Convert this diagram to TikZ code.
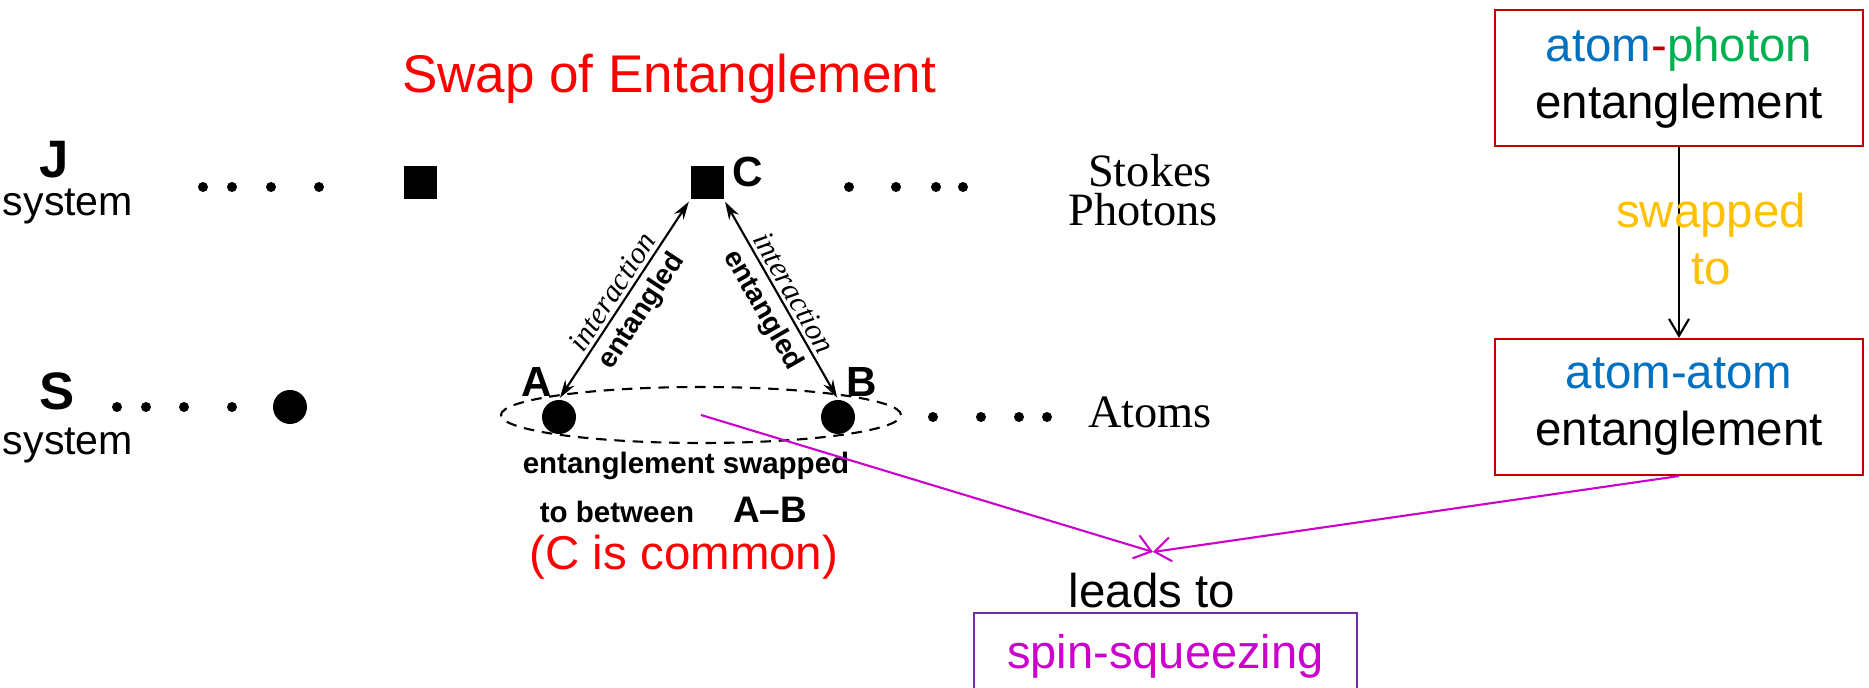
\documentclass[tikz,border=0pt]{standalone}
\usepackage{fontspec}
\setmainfont{Liberation Sans}
\newfontfamily\timesfont{Liberation Serif}
\usetikzlibrary{shapes.geometric}
\usetikzlibrary{arrows.meta}
\usetikzlibrary{positioning}

\definecolor{boxred}{HTML}{C00000}
\definecolor{atomblue}{HTML}{0070C0}
\definecolor{photgreen}{HTML}{00B050}
\definecolor{swaporange}{HTML}{FFC000}
\definecolor{spinmag}{HTML}{CC00CC}
\definecolor{spinpurple}{HTML}{7030A0}

\tikzset{
	txt/.style={anchor=base, inner sep=0pt},
	dot/.style={circle, fill, inner sep=0pt, minimum size=1mm},
	photon/.style={rectangle, fill, inner sep=0pt, minimum size=3.3mm},
	atom/.style={circle, fill, inner sep=0pt, minimum size=3.4mm},
	bigname/.style={txt, font=\bfseries\fontsize{15}{18}\selectfont},
	sysname/.style={txt, font=\fontsize{11.7}{14}\selectfont},
	ptname/.style={txt, font=\bfseries\fontsize{12}{14}\selectfont},
	serifname/.style={txt, font=\timesfont\fontsize{13.2}{16}\selectfont},
	smallbold/.style={txt, font=\bfseries\fontsize{8.4}{10}\selectfont},
	tri/.style={{Stealth[length=1.8mm,width=1.1mm]}-{Stealth[length=1.8mm,width=1.1mm]}, line width=0.6pt, shorten <=0.5pt, shorten >=0.5pt},
	inter/.style={sloped, above, inner sep=1pt, font=\timesfont\itshape\fontsize{8.7}{10}\selectfont},
	ent/.style={sloped, below, inner sep=2pt, font=\bfseries\fontsize{8}{10}\selectfont},
	ebox/.style={draw=boxred, line width=0.6pt, minimum width=3.68cm, minimum height=1.36cm, align=center, font=\fontsize{13.5}{16.2}\selectfont},
	bigtxt/.style={txt, font=\fontsize{13.5}{16}\selectfont},
	spinbox/.style={draw=spinpurple, line width=0.6pt, minimum width=3.83cm, inner ysep=0.21cm, anchor=north, font=\fontsize{13.4}{16}\selectfont},
	swaparrow/.style={-{Straight Barb[length=1.7mm,width=2mm]}, line width=0.6pt},
	lead/.style={-{Straight Barb[length=1.6mm,width=2.4mm]}, spinmag, line width=0.6pt}
}

\begin{document}
\begin{tikzpicture}[x=1cm, y=-1cm]
	\useasboundingbox (0,0) rectangle (18.69,6.88);

	% title
	\node[txt, red, font=\fontsize{15.1}{18}\selectfont] (title) at (6.69,0.93) {Swap of Entanglement};

	% J system (photons)
	\node[bigname] (J) at (0.545,1.78) {J};
	\node[sysname] (Jsys) at (0.68,2.16) {system};
	\foreach \x in {2.03,2.32,2.71,3.19}
		\node[dot] at (\x,1.87) {};
	\node[photon] (photJ) at (4.20,1.83) {};
	\node[photon] (photC) at (7.07,1.83) {};
	\node[ptname] (Clbl) at (7.48,1.87) {C};
	\foreach \x in {8.49,8.96,9.36,9.63}
		\node[dot] at (\x,1.87) {};
	\node[serifname] (stokes) at (11.50,1.87) {Stokes};
	\node[serifname] (photons) at (11.43,2.26) {Photons};

	% S system (atoms)
	\node[bigname] (S) at (0.575,4.10) {S};
	\node[sysname] (Ssys) at (0.68,4.55) {system};
	\foreach \x in {1.17,1.46,1.84,2.32}
		\node[dot] at (\x,4.07) {};
	\node[atom] (atomS) at (2.90,4.07) {};
	\node[atom] (atomA) at (5.59,4.17) {};
	\node[atom] (atomB) at (8.38,4.17) {};
	\node[ptname] (Albl) at (5.37,3.97) {A};
	\node[ptname] (Blbl) at (8.62,3.97) {B};
	\foreach \x in {9.33,9.81,10.19,10.47}
		\node[dot] at (\x,4.17) {};
	\node[serifname] (atoms) at (11.50,4.28) {Atoms};
	\node[ellipse, draw, dashed, dash pattern=on 3pt off 2.2pt, line width=0.6pt, minimum width=4cm, minimum height=0.56cm, inner sep=0pt] (pair) at (7.01,4.15) {};

	% triangle
	\draw[tri] (atomA.north) -- node[inter] {interaction} node[ent] {entangled} (photC.south west);
	\draw[tri] (photC.south east) -- node[inter] {interaction} node[ent] {entangled} (atomB.north);

	\node[smallbold] (swapd) at (6.86,4.74) {entanglement swapped};
	\node[smallbold] (betw) at (6.17,5.23) {to between};
	\node[ptname, font=\bfseries\fontsize{10.5}{12}\selectfont] (AB) at (7.70,5.23) {A--B};
	\node[bigtxt, red] (common) at (6.84,5.70) {(C is common)};

	% right boxes
	\node[ebox] (apbox) at (16.79,0.78) {\textcolor{atomblue}{atom}\textcolor{boxred}{-}\textcolor{photgreen}{photon}\\entanglement};
	\node[ebox] (aabox) at (16.79,4.07) {\textcolor{atomblue}{atom-atom}\\entanglement};
	\draw[swaparrow] (apbox) -- (aabox);
	\node[bigtxt, swaporange] (swp) at (17.11,2.28) {swapped};
	\node[bigtxt, swaporange] (swto) at (17.11,2.85) {to};

	% spin squeezing
	\node[bigtxt] (leads) at (11.52,6.08) {leads to};
	\node[spinbox] (spin) at (11.655,6.12) {\textcolor{spinmag}{spin-squeezing}};
	\coordinate (meet) at (11.53,5.52);
	\draw[lead] (pair.center) -- (meet);
	\draw[lead] (aabox.south) -- (meet);
\end{tikzpicture}
\end{document}
